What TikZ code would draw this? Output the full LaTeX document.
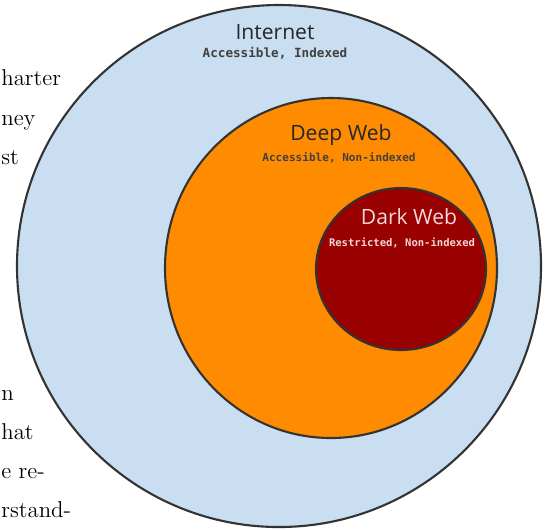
\documentclass[tikz,border=0pt]{standalone}
\usepackage{fontspec}
\newfontfamily\titlefont{Open Sans}
\newfontfamily\monofont{DejaVu Sans Mono}
\definecolor{netblue}{RGB}{201,222,240}
\definecolor{deeporange}{RGB}{255,140,0}
\definecolor{darkred}{RGB}{153,0,0}
\definecolor{paletext}{RGB}{245,215,215}
\tikzset{
  layer/.style={draw=black!80,line width=1.2pt},
  title/.style={font=\titlefont\fontsize{12}{12}\selectfont,inner sep=0pt,text=black!85},
  sub/.style={font=\monofont\bfseries\fontsize{#1}{#1}\selectfont,inner sep=0pt,text=black!75},
  body/.style={font=\fontsize{13}{13}\selectfont,anchor=base west,inner sep=0pt}
}
\begin{document}
\begin{tikzpicture}[x=0.02cm,y=-0.02cm]
\useasboundingbox (0,0) rectangle (546,529);
%
% text of the page beside the picture
%
\node[body] (line1) at (1,85) {harter};
\node[body] (line2) at (1,125) {ney};
\node[body] (line3) at (1,164) {st};
\node[body] (line4) at (1,400) {n};
\node[body] (line5) at (1,439) {hat};
\node[body] (line6) at (1,478) {e re-};
\node[body] (line7) at (1,517) {rstand-};
%
% layers
%
\draw[layer,fill=netblue] (279,266) circle [x radius=262, y radius=261];
\draw[layer,fill=deeporange] (331,268) circle [x radius=166, y radius=170];
\draw[layer,fill=darkred] (401,269) circle [x radius=85, y radius=81];
%
% labels
%
\node[title] (internet) at (275,32) {Internet};
\node[sub=7.2] (internetsub) at (275,53) {Accessible, Indexed};
\node[title] (deepweb) at (341,135) {Deep Web};
\node[sub=6.3] (deepwebsub) at (339,158) {Accessible, Non-indexed};
\node[title,text=paletext] (darkweb) at (409,217) {Dark Web};
\node[sub=6,text=paletext] (darkwebsub) at (402,243) {Restricted, Non-indexed};
\end{tikzpicture}
\end{document}
